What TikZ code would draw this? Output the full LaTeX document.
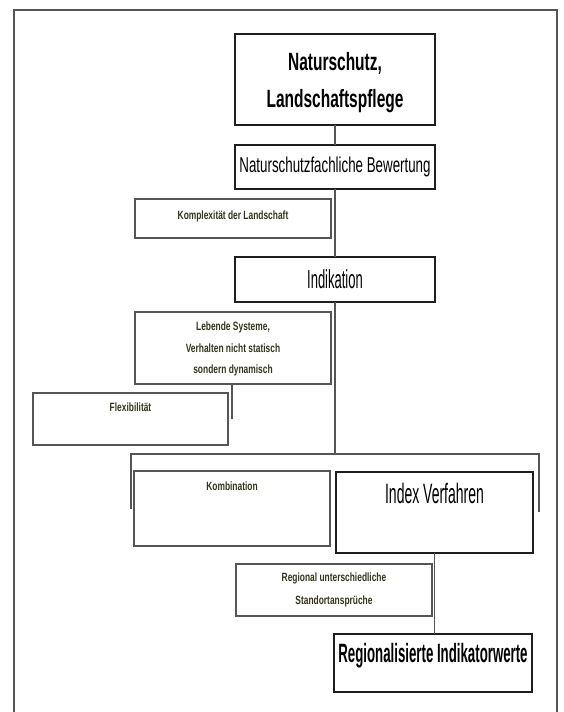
\documentclass[tikz,border=0pt]{standalone}
\usepackage{fontspec}
\usepackage{tikz}
\usetikzlibrary{positioning}
\setmainfont{Liberation Sans}
\newfontfamily\narrowfont[FakeStretch=0.5]{Liberation Sans}
\newfontfamily\midfont[FakeStretch=0.62]{Liberation Sans}
\newfontfamily\smallfont[FakeStretch=0.7]{Liberation Sans}
\definecolor{framegray}{HTML}{555555}
\definecolor{inkblack}{HTML}{1E1E1E}
\definecolor{olivetext}{HTML}{34341C}

\begin{document}
\begin{tikzpicture}[
    x=1pt, y=-1pt,
    box/.style={draw, anchor=north west, inner sep=0pt, outer sep=0pt, fill=white},
    thinbox/.style={box, draw=framegray, line width=1.4pt},
    thickbox/.style={box, draw=inkblack, line width=2.8pt},
    toptext/.style={anchor=north, inner sep=0pt, align=center},
    smalltext/.style={toptext, text=olivetext, font=\smallfont\bfseries\fontsize{12}{21.5}\selectfont},
    conn/.style={draw=framegray, line width=1.4pt}
]
  \useasboundingbox (0,0) rectangle (563,712);
  % frame
  \draw[conn] (14,714) -- (14,10) -- (557,10) -- (557,714);

  % open bracket behind the two method boxes
  \coordinate (brk) at (335,454);
  \coordinate (brkl) at (131,509);
  \coordinate (brkr) at (539,512);
  \draw[conn] (brkl) -- (brkl |- brk) -- (brkr |- brk) -- (brkr);

  \node[thickbox, minimum width=200pt, minimum height=91pt,
    label={[toptext, yshift=-18pt, font=\midfont\bfseries\fontsize{25}{37}\selectfont]north:{Naturschutz,\\Landschaftspflege}}] (natur) at (235,34) {};
  \node[thickbox, minimum width=200pt, minimum height=44pt, font=\midfont\fontsize{21.5}{26}\selectfont] (bew) at (235,145) {Naturschutzfachliche Bewertung};
  \node[thinbox, minimum width=196pt, minimum height=39pt,
    label={[smalltext, yshift=-12pt]north:{Komplexit\"at der Landschaft}}] (kompl) at (135,199) {};
  \node[thickbox, minimum width=200pt, minimum height=45pt, font=\narrowfont\fontsize{26}{30}\selectfont] (ind) at (235,257) {Indikation};
  \node[thinbox, minimum width=196pt, minimum height=72pt,
    label={[smalltext, yshift=-10pt]north:{Lebende Systeme,\\Verhalten nicht statisch\\sondern dynamisch}}] (leb) at (135,312) {};
  \node[thinbox, minimum width=195pt, minimum height=52pt,
    label={[smalltext, yshift=-10pt]north:{Flexibilit\"at}}] (flex) at (33,393) {};
  \node[thinbox, minimum width=196pt, minimum height=75pt,
    label={[smalltext, yshift=-11pt]north:{Kombination}}] (komb) at (134,471) {};
  \node[thickbox, minimum width=197pt, minimum height=81pt,
    label={[toptext, yshift=-11pt, font=\narrowfont\fontsize{28}{34}\selectfont]north:{Index Verfahren}}] (idx) at (336,472) {};
  \node[thinbox, minimum width=196pt, minimum height=52pt,
    label={[smalltext, yshift=-9pt, font=\smallfont\bfseries\fontsize{12}{23}\selectfont]north:{Regional unterschiedliche\\Standortanspr\"uche}}] (regstand) at (236,564) {};
  \node[thickbox, minimum width=198pt, minimum height=58pt,
    label={[toptext, yshift=-9pt, font=\narrowfont\bfseries\fontsize{26.5}{32}\selectfont]north:{Regionalisierte Indikatorwerte}}] (regind) at (334,634) {};

  \draw[conn] (natur.south) -- (bew.north);
  \draw[conn] (bew.south) -- (ind.north);
  \draw[conn] (ind.south) -- (brk);
  \coordinate (flexin) at (232,419);
  \draw[conn] (leb.south -| flexin) -- (flexin);
  \draw[conn] (idx.south) -- (idx.south |- regind.north);
\end{tikzpicture}
\end{document}
